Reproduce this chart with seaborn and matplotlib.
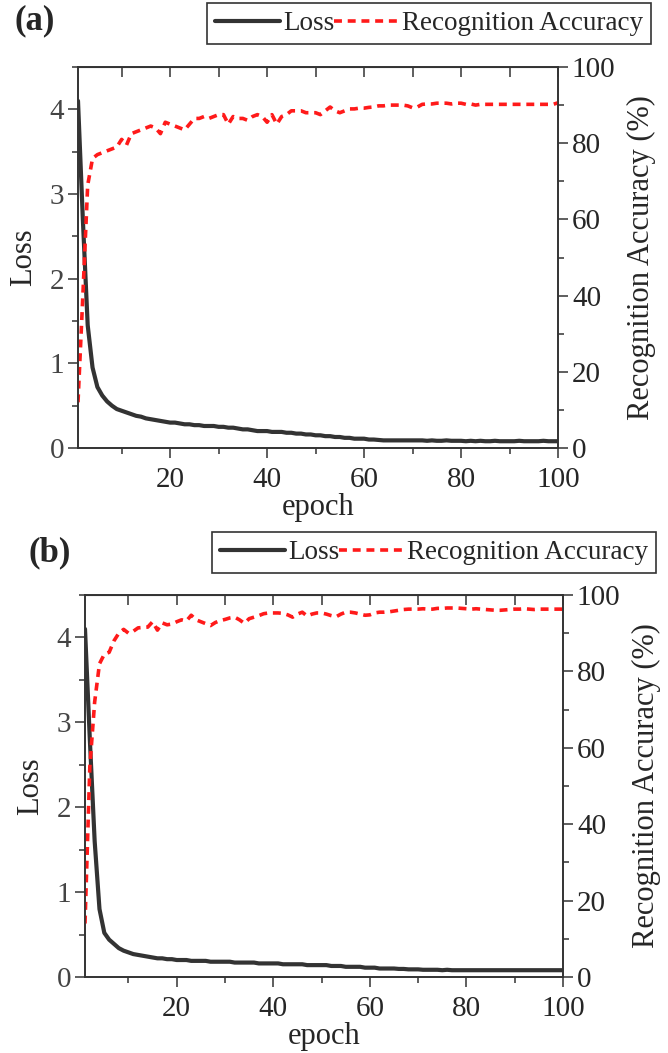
import matplotlib
matplotlib.use('Agg')
import matplotlib.pyplot as plt
from matplotlib.ticker import MultipleLocator
import numpy as np
import pandas as pd
import seaborn as sb

epochs = list(range(1, 101))

# panel (a)
loss_a = [4.10, 2.70, 1.45, 0.95, 0.72, 0.62, 0.55, 0.50, 0.46, 0.44,
          0.42, 0.40, 0.38, 0.37, 0.35, 0.34, 0.33, 0.32, 0.31, 0.30,
          0.30, 0.29, 0.28, 0.28, 0.27, 0.27, 0.26, 0.26, 0.26, 0.25,
          0.25, 0.24, 0.24, 0.23, 0.22, 0.22, 0.21, 0.20, 0.20, 0.20,
          0.19, 0.19, 0.19, 0.18, 0.18, 0.17, 0.17, 0.16, 0.16, 0.15,
          0.15, 0.14, 0.14, 0.13, 0.13, 0.12, 0.12, 0.11, 0.11, 0.11,
          0.10, 0.10, 0.095, 0.09, 0.09, 0.09, 0.09, 0.09, 0.09, 0.09,
          0.09, 0.09, 0.085, 0.09, 0.085, 0.085, 0.09, 0.085, 0.085, 0.085,
          0.08, 0.085, 0.08, 0.085, 0.08, 0.08, 0.085, 0.08, 0.08, 0.08,
          0.08, 0.085, 0.08, 0.08, 0.08, 0.08, 0.085, 0.08, 0.08, 0.08]
acc_a = [12, 40, 69, 76, 77, 77.5, 78, 78.5, 79, 81,
         79.5, 82.5, 83, 83.5, 84, 84.5, 84, 82.5, 85.5, 85,
         84.5, 84, 83.5, 85, 86.5, 86.5, 87, 86.5, 87, 87.5,
         87.5, 85, 87, 86.5, 86.5, 86, 87, 87.5, 87, 85.5,
         87.5, 85, 87, 87.5, 88.5, 88.5, 88.5, 88, 88, 88,
         87.5, 88.5, 89.5, 88.5, 88, 88.5, 89, 89, 89.2, 89.2,
         89.4, 89.5, 89.8, 89.8, 90, 90, 90, 90, 89.8, 89.3,
         89.5, 90.2, 90.3, 90.3, 90.5, 90.5, 90.5, 90.3, 90.5, 90.5,
         90.2, 90.3, 90, 90.2, 90.2, 90.2, 90.2, 90.2, 90.2, 90.2,
         90.2, 90.2, 90.2, 90.2, 90.2, 90.2, 90.2, 90.2, 90.2, 90.6]

# panel (b)
loss_b = [4.10, 2.80, 1.60, 0.80, 0.52, 0.44, 0.39, 0.34, 0.31, 0.29,
          0.27, 0.26, 0.25, 0.24, 0.23, 0.22, 0.22, 0.21, 0.21, 0.20,
          0.20, 0.20, 0.19, 0.19, 0.19, 0.19, 0.18, 0.18, 0.18, 0.18,
          0.18, 0.17, 0.17, 0.17, 0.17, 0.17, 0.16, 0.16, 0.16, 0.16,
          0.16, 0.15, 0.15, 0.15, 0.15, 0.15, 0.14, 0.14, 0.14, 0.14,
          0.14, 0.13, 0.13, 0.13, 0.12, 0.12, 0.12, 0.12, 0.11, 0.11,
          0.11, 0.10, 0.10, 0.10, 0.10, 0.095, 0.095, 0.09, 0.09, 0.09,
          0.085, 0.085, 0.085, 0.085, 0.08, 0.085, 0.08, 0.08, 0.08, 0.08,
          0.08, 0.08, 0.08, 0.08, 0.08, 0.08, 0.08, 0.08, 0.08, 0.08,
          0.08, 0.08, 0.08, 0.08, 0.08, 0.08, 0.08, 0.08, 0.08, 0.08]
acc_b = [14, 55, 72, 82, 84.5, 85, 88, 90, 91, 90,
         90.5, 91.4, 91.5, 91.6, 93, 90.8, 92.7, 92.2, 92.4, 93,
         93.5, 93.2, 94.7, 93.5, 93, 92.5, 92, 92.8, 93.3, 93.6,
         94, 94.2, 93.5, 92.6, 93.8, 94.2, 94.6, 95.1, 95.3, 95.3,
         95.3, 95.2, 94.8, 94.2, 95, 95.5, 94.5, 95, 95.3, 95.3,
         95, 94.6, 94.3, 95, 95.5, 95.5, 95.3, 95, 94.7, 94.8,
         95.3, 95.5, 95.5, 95.6, 95.8, 96, 96.2, 96.3, 96.3, 96.3,
         96.4, 96.3, 96.3, 96.5, 96.5, 96.6, 96.6, 96.6, 96.5, 96.4,
         96.3, 96.4, 96.3, 96.2, 96.1, 96, 96, 96.1, 96.2, 96.3,
         96.3, 96.4, 96.3, 96.2, 96.3, 96.3, 96.3, 96.3, 96.3, 96.3]

panel_labels = ["(a)", "(b)"]
legend_labels = ["Loss", "Recognition Accuracy"]

sb.set_style("ticks")
plt.rcParams["font.family"] = ["Liberation Serif", "DejaVu Serif"]

W, H = 668, 1053
fig = plt.figure(figsize=(W / 100, H / 100), dpi=100)

GRAY = "#333333"
RED = "#ff1a1a"
TICK_FS = 21
LABEL_FS = 22

# axes boxes in pixels: left, top, right, bottom
boxes = [(78, 67, 558, 448), (85, 595, 563, 977)]
legend_pos = [(651, 3), (656, 532)]
tag_pos = [(14, 21), (29, 553)]

panels = [(loss_a, acc_a), (loss_b, acc_b)]

for i, (loss, acc) in enumerate(panels):
    l, t, r, b = boxes[i]
    ax = fig.add_axes([l / W, 1 - b / H, (r - l) / W, (b - t) / H])
    df = pd.DataFrame({"epoch": epochs, "loss": loss, "acc": acc})

    sb.lineplot(data=df, x="epoch", y="loss", ax=ax, color=GRAY, linewidth=3.0,
                label=legend_labels[0], legend=False)
    ax2 = ax.twinx()
    sb.lineplot(data=df, x="epoch", y="acc", ax=ax2, color=RED, linewidth=2.6,
                linestyle=(0, (2.2, 1.6)), label=legend_labels[1], legend=False)

    ax.set_xlim(1, 100)
    ax.set_ylim(0, 4.5)
    ax2.set_ylim(0, 100)

    ax.xaxis.set_major_locator(MultipleLocator(20))
    ax.xaxis.set_minor_locator(MultipleLocator(10))
    ax.yaxis.set_major_locator(MultipleLocator(1))
    ax.yaxis.set_minor_locator(MultipleLocator(0.5))
    ax2.yaxis.set_major_locator(MultipleLocator(20))
    ax2.yaxis.set_minor_locator(MultipleLocator(10))

    for a in (ax, ax2):
        for sp in a.spines.values():
            sp.set_color(GRAY)
            sp.set_linewidth(1.2)
        a.tick_params(which="major", length=7, width=1.1, color=GRAY, labelsize=TICK_FS)
        a.tick_params(which="minor", length=4, width=1.1, color=GRAY)
    ax.tick_params(axis="y", labelcolor="#444444", pad=3)
    ax2.tick_params(axis="y", pad=3)
    ax.tick_params(axis="x", pad=7)

    top = ax.secondary_xaxis("top")
    top.xaxis.set_major_locator(MultipleLocator(20))
    top.xaxis.set_minor_locator(MultipleLocator(10))
    top.tick_params(which="both", direction="in", labeltop=False, color=GRAY,
                    width=1.1, length=7)
    top.spines["top"].set_color(GRAY)

    ax.set_xlabel("epoch", fontsize=LABEL_FS, labelpad=0)
    ax.set_ylabel("Loss", fontsize=LABEL_FS, labelpad=8)
    ax2.set_ylabel("Recognition Accuracy (%)", fontsize=LABEL_FS, labelpad=8)

    h1, _ = ax.get_legend_handles_labels()
    h2, _ = ax2.get_legend_handles_labels()
    lx, ly = legend_pos[i]
    leg = fig.legend(h1 + h2, legend_labels, loc="upper right",
                     bbox_to_anchor=(lx / W, 1 - ly / H), ncol=2, frameon=True,
                     fancybox=False, edgecolor=GRAY, fontsize=19.5,
                     borderpad=0.3, columnspacing=0.0, handletextpad=0.1,
                     handlelength=2.4, borderaxespad=0)
    leg.get_frame().set_linewidth(1.2)
    leg.get_frame().set_alpha(1)

    tx, ty = tag_pos[i]
    fig.text(tx / W, 1 - ty / H, panel_labels[i], fontsize=25, fontweight="bold",
             va="center", ha="left")

fig.savefig("out.png", dpi=100)
